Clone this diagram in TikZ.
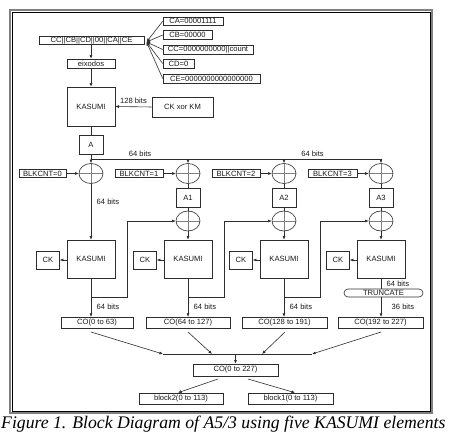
\documentclass[tikz,border=0pt]{standalone}
\usepackage{fontspec}
\setmainfont{Liberation Sans}
\newfontfamily\capfont{Liberation Serif}
\usetikzlibrary{shapes.geometric,arrows.meta,calc}
\definecolor{lc}{RGB}{45,45,45}
\definecolor{txt}{RGB}{25,25,25}
\newcommand{\fs}{\fontsize{7.6}{8}\selectfont}
\begin{document}
\begin{tikzpicture}[x=1pt,y=-1pt,
  ln/.style={draw=lc, line width=0.6pt},
  bx/.style={draw=lc, line width=0.6pt, inner sep=0pt, font=\fs, text=txt},
  rbox/.style={bx, rounded corners=4pt},
  arr/.style={draw=lc, line width=0.6pt, -{Latex[length=3.6pt,width=3pt]}},
  xorn/.style={ellipse, draw=lc, line width=0.6pt, minimum width=24pt, minimum height=20pt, inner sep=0pt,
    path picture={\draw[gray, line width=0.6pt] (path picture bounding box.north) -- (path picture bounding box.south)
      (path picture bounding box.west) -- (path picture bounding box.east);}},
  lbl/.style={font=\fs, text=txt, inner sep=0pt},
  frameout/.style={draw=gray, line width=2pt},
  framein/.style={draw=black, line width=0.7pt}
]
\useasboundingbox (0,0) rectangle (460,443);
% frame
\draw[frameout] (10,10) rectangle (432,413);
\draw[framein] (12,12) rectangle (430,411);

% top part
\node[bx, minimum width=105pt, minimum height=8pt] (top) at (91.5,40.75) {CC||CB||CD||00||CA||CE};
\node[bx, minimum width=60pt, minimum height=8.5pt] (ca) at (193,21.25) {CA=00001111};
\node[bx, minimum width=49pt, minimum height=8.5pt] (cb) at (187.5,35) {CB=00000};
\node[bx, minimum width=90pt, minimum height=9pt] (cc) at (208,49.5) {CC=0000000000||count};
\node[bx, minimum width=31pt, minimum height=9pt] (cd) at (178.5,63.5) {CD=0};
\node[bx, minimum width=97pt, minimum height=9pt] (ce) at (211.5,78.5) {CE=0000000000000000};
\coordinate (tip) at (146.5,42);
\foreach \n in {ca,cb,cc,cd,ce} \draw[arr] (\n.west) -- (tip);

\node[bx, minimum width=48pt, minimum height=9pt] (eix) at (91,63.5) {eixodos};
\node[bx, minimum width=48pt, minimum height=39pt] (k0) at (91,106.5) {KASUMI};
\node[bx, minimum width=61pt, minimum height=20pt] (ckkm) at (182.5,107) {CK xor KM};
\node[bx, minimum width=24pt, minimum height=19pt] (a) at (91,144.5) {A};
\draw[arr] (top.south -| eix.north) -- (eix.north);
\draw[arr] (eix.south) -- (k0.north);
\draw[arr] (ckkm.west) -- (k0.east) node[lbl, midway, above=2.5pt] {128 bits};
\draw[ln] (k0.south) -- (a.north);

% first xor row
\foreach \i/\x in {1/91,2/188,3/284,4/381}
  \node[xorn] (x\i) at (\x,173.5) {};
\node[bx, minimum width=47pt, minimum height=8.5pt] (bk0) at (42.5,173.5) {BLKCNT=0};
\node[bx, minimum width=48pt, minimum height=8.5pt] (bk1) at (139,173.5) {BLKCNT=1};
\node[bx, minimum width=48pt, minimum height=8.5pt] (bk2) at (236,173.5) {BLKCNT=2};
\node[bx, minimum width=49pt, minimum height=8.5pt] (bk3) at (332.5,173.5) {BLKCNT=3};
\foreach \i/\j in {0/1,1/2,2/3,3/4} \draw[arr] (bk\i.east) -- (x\j.west);

\coordinate (h0) at (91,159);
\draw[ln] (h0) -- (h0 -| x4);
\draw[arr] (a.south) -- (x1.north);
\foreach \i in {2,3,4} \draw[arr] (h0 -| x\i) -- (x\i.north);
\node[lbl] (l64a) at (140,154) {64 bits};
\node[lbl] (l64b) at (312.5,154) {64 bits};

% A1..A3 and second xor row
\foreach \i/\x [evaluate=\i as \k using int(\i-1)] in {2/188,3/284,4/381} {
  \node[bx, minimum width=24pt, minimum height=19pt] (a\i) at (\x,197.5) {A\k};
  \node[xorn] (y\i) at (\x,221) {};
  \draw[ln] (x\i.south) -- (a\i.north);
  \draw[ln] (a\i.south) -- (y\i.north);
}

% KASUMI row
\foreach \i/\x in {1/91,2/188,3/284,4/381} {
  \node[bx, minimum width=48pt, minimum height=38pt] (k\i) at (\x,259) {KASUMI};
  \node[bx, minimum width=23pt, minimum height=18pt] (ck\i) at (\x-43,260) {CK};
  \draw[arr] (k\i.west |- ck\i.east) -- (ck\i.east);
}
\draw[arr] (x1.south) -- (k1.north);
\node[lbl, anchor=west] (l64c) at (96.5,202) {64 bits};
\foreach \i in {2,3,4} \draw[arr] (y\i.south) -- (k\i.north);

% CO boxes
\node[bx, minimum width=72pt, minimum height=11pt] (co1) at (97,322.75) {CO(0 to 63)};
\node[bx, minimum width=84pt, minimum height=11pt] (co2) at (188,322.75) {CO(64 to 127)};
\node[bx, minimum width=85pt, minimum height=11pt] (co3) at (284.5,322.75) {CO(128 to 191)};
\node[bx, minimum width=85pt, minimum height=11pt] (co4) at (380.5,322.75) {CO(192 to 227)};
\node[rbox, minimum width=79pt, minimum height=8pt] (trunc) at (383.5,293) {TRUNCATE};

\foreach \i in {1,2,3} {
  \draw[arr] (k\i.south) -- (k\i.south |- co\i.north);
  \node[lbl, anchor=west] (lo\i) at ($(k\i.south |- 0,307)+(5.5,0)$) {64 bits};
}
\draw[ln] (k4.south) -- (k4.south |- trunc.north);
\draw[arr] (k4.south |- trunc.south) -- (k4.south |- co4.north);
\node[lbl, anchor=west] (lt1) at (386.5,283.5) {64 bits};
\node[lbl, anchor=west] (lt2) at (391.5,307) {36 bits};

% feedback lines
\foreach \i/\j in {1/2,2/3,3/4} {
  \coordinate (fb\i) at (k\i.south |- 0,297);
  \draw[arr] (fb\i) -- ++(36,0) |- (y\j.west);
}

% combine
\coordinate (m1) at (163,354);
\coordinate (m2) at (212,354);
\coordinate (m3) at (262,354);
\coordinate (m4) at (312,354);
\coordinate (s1) at (91,332);
\coordinate (s2) at (188,332);
\coordinate (s3) at (285,332);
\coordinate (s4) at (381,332);
\draw[ln] (m1) -- (m4);
\foreach \i in {1,2,3,4} \draw[arr] (s\i) -- (m\i);
\node[bx, minimum width=85pt, minimum height=12pt] (cot) at (235.5,370) {CO(0 to 227)};
\draw[arr] (cot.north |- m1) -- (cot.north);
\node[bx, minimum width=84pt, minimum height=11pt] (b2) at (181,398.5) {block2(0 to 113)};
\node[bx, minimum width=85pt, minimum height=11pt] (b1) at (290.5,398.5) {block1(0 to 113)};
\coordinate (t1) at (218,379);
\coordinate (t2) at (248,379);
\draw[arr] (t1) -- ($(b2.north)+(-3,0)$);
\draw[arr] (t2) -- ($(b1.north)+(4.5,0)$);

% caption
\node[anchor=base west, inner sep=0pt, font=\capfont\itshape\fontsize{17.7}{20}\selectfont] (cap) at (1,428)
  {Figure 1. Block Diagram of A5/3 using five KASUMI elements};
\end{tikzpicture}
\end{document}
